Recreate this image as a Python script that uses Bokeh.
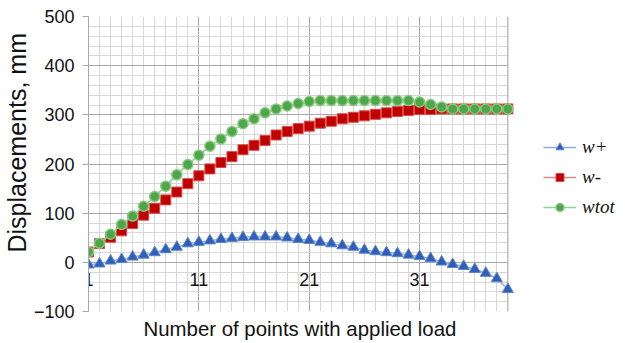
import math
from bokeh.plotting import figure
from bokeh.models import Range1d, FixedTicker, Grid, Title, LinearAxis, ColumnDataSource, BoxAnnotation, Span
from bokeh.embed import file_html
from bokeh.resources import INLINE

points = list(range(1, 40))
w_plus = [-5, -3, 3, 6, 11, 15, 20, 26, 31, 38, 41, 44, 47, 49, 51, 52, 52, 52, 50, 47,
          45, 41, 38, 34, 31, 25, 22, 20, 18, 15, 12, 8, 1, -4, -8, -14, -22, -33, -55]
w_minus = [21, 38, 51, 64, 79, 96, 110, 127, 143, 160, 176, 190, 203, 215, 229, 238, 248, 259, 266, 272,
           277, 283, 287, 292, 295, 298, 301, 304, 307, 309, 311, 311, 312, 312, 312, 312, 312, 312, 312]
w_tot = [21, 39, 57, 77, 94, 114, 134, 155, 178, 199, 218, 236, 251, 266, 282, 292, 304, 312, 318, 323,
         327, 329, 329, 329, 329, 329, 329, 329, 329, 329, 326, 321, 316, 312, 312, 312, 312, 312, 312]

x_first, x_last = 1, 39
x_ticks = [1, 11, 21, 31]
x_minor = list(range(1, 40))
y_ticks = [-100, 0, 100, 200, 300, 400, 500]
y_minor = list(range(-100, 501, 20))
y_tick_labels = {-100: "\u2212100"}

series_labels = ["w+", "w-", "wtot"]

# frame is extended to the right edge so the legend (which sits right of the grid) is not clipped
px_per_unit = 11.07
x_end = x_last + 118 / px_per_unit

p = figure(width=625, height=343, x_range=Range1d(x_first, x_end), y_range=Range1d(-100, 500),
           x_axis_location=None, y_axis_location="left",
           min_border_left=86, min_border_right=0, min_border_top=16, min_border_bottom=31,
           output_backend="svg", toolbar_location=None)
p.center = []
p.outline_line_color = None
p.background_fill_color = "white"
p.border_fill_color = "white"

major_col = "#a8a8a8"
minor_col = "#d6d6d6"
xg = Grid(dimension=0, ticker=FixedTicker(ticks=x_ticks, minor_ticks=x_minor),
          grid_line_color=major_col, minor_grid_line_color=minor_col)
yg = Grid(dimension=1, ticker=FixedTicker(ticks=y_ticks, minor_ticks=y_minor),
          grid_line_color=major_col, minor_grid_line_color=minor_col)
p.add_layout(xg, "center")
p.add_layout(yg, "center")
p.add_layout(BoxAnnotation(left=x_last, fill_color="white", fill_alpha=1, line_color=None,
                           level="underlay"))
p.add_layout(Span(location=x_last, dimension="height", line_color=major_col, line_width=1,
                  level="underlay"))

ya = p.yaxis[0]
ya.ticker = FixedTicker(ticks=y_ticks)
ya.major_label_overrides = y_tick_labels
ya.axis_line_color = major_col
ya.major_tick_line_color = major_col
ya.major_tick_out = 6
ya.major_tick_in = 0
ya.minor_tick_out = 0
ya.minor_tick_in = 0
ya.major_label_standoff = 8
ya.major_label_text_font = "Liberation Sans"
ya.major_label_text_font_size = "18px"
ya.major_label_text_color = "#111111"

# category axis crossing at y = 0
xa = LinearAxis(fixed_location=0, ticker=FixedTicker(ticks=x_ticks))
xa.axis_line_color = None
xa.major_tick_line_color = None
xa.minor_tick_line_color = None
xa.major_tick_out = 0
xa.major_tick_in = 0
xa.minor_tick_out = 0
xa.minor_tick_in = 0
xa.major_label_standoff = 11
xa.major_label_text_font = "Liberation Sans"
xa.major_label_text_font_size = "18px"
xa.major_label_text_color = "#111111"
p.add_layout(xa, "below")

src = ColumnDataSource(dict(x=points, wp=w_plus, wm=w_minus, wt=w_tot))

p.line("x", "wp", source=src, line_color="#8fb0dd", line_width=1.5, legend_label=series_labels[0])
p.scatter("x", "wp", source=src, marker="triangle", size=11, fill_color="#2f5fb8",
          line_color="#5a82c8", line_width=1, legend_label=series_labels[0])
p.line("x", "wm", source=src, line_color="#d98a8a", line_width=1.5, legend_label=series_labels[1])
p.scatter("x", "wm", source=src, marker="square", size=10, fill_color="#c00000",
          line_color="#d84848", line_width=1, legend_label=series_labels[1])
p.line("x", "wt", source=src, line_color="#8fcf8f", line_width=1.5, legend_label=series_labels[2])
p.scatter("x", "wt", source=src, marker="circle", size=10, fill_color="#4ea64a",
          line_color="#85c97a", line_width=1.5, legend_label=series_labels[2])

xt = Title(text="Number of points with applied load", align="left", offset=55,
           text_font="Liberation Sans", text_font_size="20.4px", text_font_style="normal",
           text_color="#111111", standoff=8)
p.add_layout(xt, "below")
yt = Title(text="Displacements, mm", align="left", offset=59,
           text_font="Liberation Sans", text_font_size="25px", text_font_style="normal",
           text_color="#111111", standoff=0)
p.add_layout(yt, "left")

leg = p.legend[0]
leg.location = (455, 93)
leg.background_fill_alpha = 0
leg.border_line_alpha = 0
leg.padding = 0
leg.margin = 0
leg.spacing = 8
leg.glyph_height = 20
leg.label_height = 20
leg.glyph_width = 33
leg.label_standoff = 6
leg.label_text_font = "Liberation Serif"
leg.label_text_font_style = "italic"
leg.label_text_font_size = "19px"
leg.label_text_color = "#111111"

open("out.html", "w").write(file_html(p, INLINE))
